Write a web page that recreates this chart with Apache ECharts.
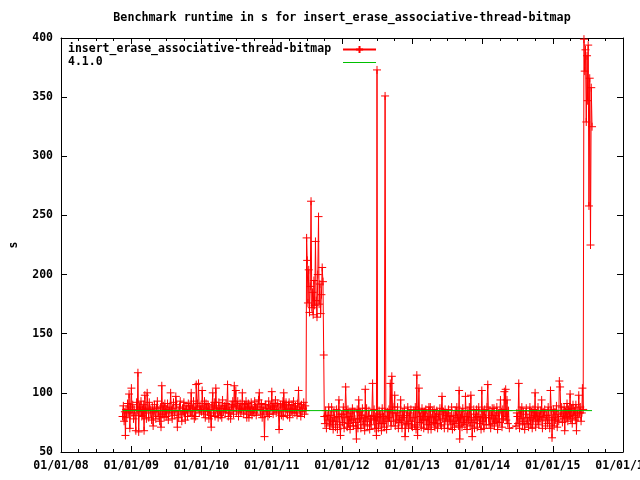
<!DOCTYPE html>
<html><head><meta charset="utf-8">
<script src="https://cdn.jsdelivr.net/npm/echarts@6/dist/echarts.min.js"></script>
<style>html,body{margin:0;padding:0;background:#fff}#chart{width:640px;height:480px}</style>
</head><body><div id="chart"></div>
<script>
const chartTitle = 'Benchmark runtime in s for insert_erase_associative-thread-bitmap';
const seriesNames = ['insert_erase_associative-thread-bitmap', '4.1.0'];
const yAxisName = 's';
const yMin = 50, yMax = 400, yStep = 50;
const xStart = '2008-01-01', xEnd = '2016-01-01', xYears = 8;

// runtime samples: one row per month, taken on these days of the month (null = no run)
const sampleDays = [1, 4, 8, 12, 16, 20, 24, 28];
const runMonths = [
'2008-11','2008-12',
'2009-01','2009-02','2009-03','2009-04','2009-05','2009-06','2009-07','2009-08','2009-09','2009-10','2009-11','2009-12',
'2010-01','2010-02','2010-03','2010-04','2010-05','2010-06','2010-07','2010-08','2010-09','2010-10','2010-11','2010-12',
'2011-01','2011-02','2011-03','2011-04','2011-05','2011-06','2011-07','2011-08','2011-09','2011-10','2011-11','2011-12',
'2012-01','2012-02','2012-03','2012-04','2012-05','2012-06','2012-07','2012-08','2012-09','2012-10','2012-11','2012-12',
'2013-01','2013-02','2013-03','2013-04','2013-05','2013-06','2013-07','2013-08','2013-09','2013-10','2013-11','2013-12',
'2014-01','2014-02','2014-03','2014-04','2014-05','2014-06','2014-07','2014-08','2014-09','2014-10','2014-11','2014-12',
'2015-01','2015-02','2015-03','2015-04','2015-05','2015-06','2015-07'
];
const runSeconds = [
[null,null,null,null,80,89,76,84],
[64,86,79,91,83,99,70,88],
[104,83,90,78,86,81,68,92],
[85,117,67,88,84,93,80,86],
[81,90,68,98,85,78,100,87],
[79,92,86,83,77,88,72,84],
[90,84,78,87,93,80,85,76],
[88,71,106,82,89,79,91,84],
[80,86,91,77,88,83,100,85],
[78,87,92,81,84,97,90,71],
[85,79,88,93,82,76,87,84],
[92,83,77,89,86,80,91,85],
[89,84,100,81,87,93,78,88],
[80,107,86,91,108,83,89,86],
[84,102,88,82,93,79,91,87],
[84,90,78,86,81,71,89,100],
[88,83,92,80,104,87,85,79],
[92,85,81,89,79,94,84,87],
[89,83,91,86,107,80,88,83],
[78,90,85,93,82,106,88,102],
[84,89,93,80,87,91,83,86],
[100,87,82,90,85,93,79,88],
[91,79,88,84,92,81,87,85],
[83,93,88,81,90,86,94,100],
[86,82,91,79,88,85,63,90],
[90,84,87,80,93,82,89,85],
[101,88,82,91,86,94,83,89],
[91,84,69,85,90,81,88,93],
[80,100,89,84,92,86,81,90],
[92,79,87,84,90,83,93,86],
[83,89,86,81,91,102,85,88],
[80,90,84,87,92,82,89,85],
[231,212,176,204,168,190,262,172],
[185,166,195,174,228,178,164,200],
[249,175,192,167,183,206,194,132],
[80,74,85,70,81,77,88,72],
[81,73,88,76,69,84,79,71],
[76,86,69,80,94,73,64,82],
[82,75,88,70,79,105,84,71],
[86,74,80,69,83,77,87,72],
[72,84,78,75,61,86,70,94],
[78,84,70,81,87,73,79,68],
[103,76,87,72,80,85,69,78],
[73,81,108,77,86,70,80,64],
[373,79,70,85,74,82,68,87],
[74,80,71,351,78,69,84,76],
[86,79,108,72,114,83,76,88],
[98,72,83,77,88,70,81,75],
[94,77,70,84,79,87,63,73],
[81,74,88,70,83,76,86,72],
[71,79,85,73,88,69,115,64],
[86,104,75,80,71,87,77,83],
[70,84,77,86,73,80,69,88],
[73,88,69,79,84,75,86,71],
[80,74,85,70,82,77,87,73],
[72,97,78,84,70,86,76,81],
[83,70,86,77,80,73,88,69],
[76,81,71,85,74,88,79,72],
[102,61,79,84,71,87,75,80],
[73,97,80,69,85,77,88,72],
[98,79,63,75,86,70,82,77],
[86,71,80,88,74,79,69,102],
[76,84,70,86,79,73,88,107],
[79,73,85,70,81,87,74,78],
[87,72,81,76,88,69,83,75],
[75,94,84,71,86,78,101,80],
[103,77,94,74,85,70,null,null],
[null,null,null,null,null,null,72,83],
[80,74,108,70,85,78,88,73],
[84,76,69,82,87,74,79,71],
[79,88,73,84,70,86,77,81],
[100,71,83,76,88,73,80,85],
[77,94,70,84,79,86,72,81],
[81,74,88,77,70,102,85,62],
[79,86,72,84,77,89,71,82],
[76,110,105,80,88,75,83,78],
[88,68,84,79,91,76,86,80],
[99,78,87,74,90,81,85,77],
[90,68,85,79,98,83,88,76],
[83,104,86,399,372,390,329,385],
[347,394,258,366,225,358,325,null]
];
// reference release 4.1.0
const refDates = ['2008-11-16', '2015-07-24'];
const refSeconds = [85, 85];

const FONT = 'DejaVu Sans Mono';
const DAY = 86400000;
const t0 = Date.parse(xStart);
const xMax = Date.parse(xEnd) - t0;
const xStep = xMax / xYears;
const toX = d => Date.parse(d) - t0;
const pad2 = n => String(n).padStart(2, '0');
const fmtDate = v => {
  const d = new Date(t0 + v + DAY * 0.9);
  return pad2(d.getUTCMonth() + 1) + '/' + pad2(d.getUTCDate()) + '/' + pad2(d.getUTCFullYear() % 100);
};
const runData = [];
runMonths.forEach((m, i) => {
  runSeconds[i].forEach((v, j) => {
    if (v !== null) runData.push([toX(m + '-' + pad2(sampleDays[j])), v]);
  });
});
const maxNameLen = Math.max(...seriesNames.map(s => s.length));
const txt = { fontFamily: FONT, fontSize: 11.5, fontWeight: 'bold', color: '#000' };
const axisLine = { show: true, onZero: false, lineStyle: { color: '#000', width: 1 } };
const tick = { show: true, inside: true, length: 6, lineStyle: { color: '#000' } };
const minor = { show: true, splitNumber: 4, length: 3, lineStyle: { color: '#000' } };

const chart = echarts.init(document.getElementById('chart'), null, { renderer: 'canvas' });
chart.setOption({
  animation: false,
  backgroundColor: '#fff',
  title: { text: chartTitle, left: 342, top: 12, textAlign: 'center', padding: 0,
           textStyle: Object.assign({}, txt, { fontSize: 11.7 }) },
  legend: {
    data: [{ name: seriesNames[0] }, { name: seriesNames[1], icon: 'path://M0,0L33,0L33,1L0,1Z' }],
    orient: 'vertical', align: 'right', left: 68, top: 43, padding: 0,
    itemWidth: 33, itemHeight: 9, itemGap: 0, selectedMode: false,
    formatter: n => n.padEnd(maxNameLen + 1, ' '),
    textStyle: Object.assign({ lineHeight: 13 }, txt)
  },
  grid: { left: 61, right: 17, top: 38, bottom: 28, containLabel: false, outerBoundsMode: 'none' },
  xAxis: [{
    type: 'value', position: 'bottom', min: 0, max: xMax, interval: xStep,
    axisLine, splitLine: { show: false }, axisTick: tick, minorTick: minor,
    axisLabel: Object.assign({ formatter: fmtDate, margin: 8, showMinLabel: true, showMaxLabel: true, hideOverlap: false }, txt)
  }, {
    type: 'value', position: 'top', min: 0, max: xMax, interval: xStep,
    axisLine, splitLine: { show: false }, axisTick: tick, minorTick: minor,
    axisLabel: { show: false }
  }],
  yAxis: [{
    type: 'value', position: 'left', min: yMin, max: yMax, interval: yStep,
    name: yAxisName, nameLocation: 'middle', nameRotate: 90, nameGap: 41,
    nameTextStyle: txt,
    axisLine, splitLine: { show: false }, axisTick: tick,
    axisLabel: Object.assign({ margin: 8 }, txt)
  }, {
    type: 'value', position: 'right', min: yMin, max: yMax, interval: yStep,
    axisLine, splitLine: { show: false }, axisTick: tick,
    axisLabel: { show: false }
  }],
  series: [{
    name: seriesNames[0], type: 'line', xAxisIndex: 0, yAxisIndex: 0, z: 2,
    data: runData,
    symbol: 'path://M0,5L10,5M5,0L5,10', symbolSize: 8, showSymbol: true,
    lineStyle: { color: '#ff0000', width: 1 },
    itemStyle: { color: '#ff0000', borderColor: '#ff0000', borderWidth: 1 },
    emphasis: { disabled: true }, silent: true, clip: true
  }, {
    name: seriesNames[1], type: 'line', xAxisIndex: 0, yAxisIndex: 0, z: 5,
    data: refDates.map((d, i) => [toX(d), refSeconds[i]]),
    symbol: 'none', showSymbol: false,
    lineStyle: { color: '#00c000', width: 1 },
    itemStyle: { color: '#00c000' },
    emphasis: { disabled: true }, silent: true
  }]
});
</script>
</body></html>
